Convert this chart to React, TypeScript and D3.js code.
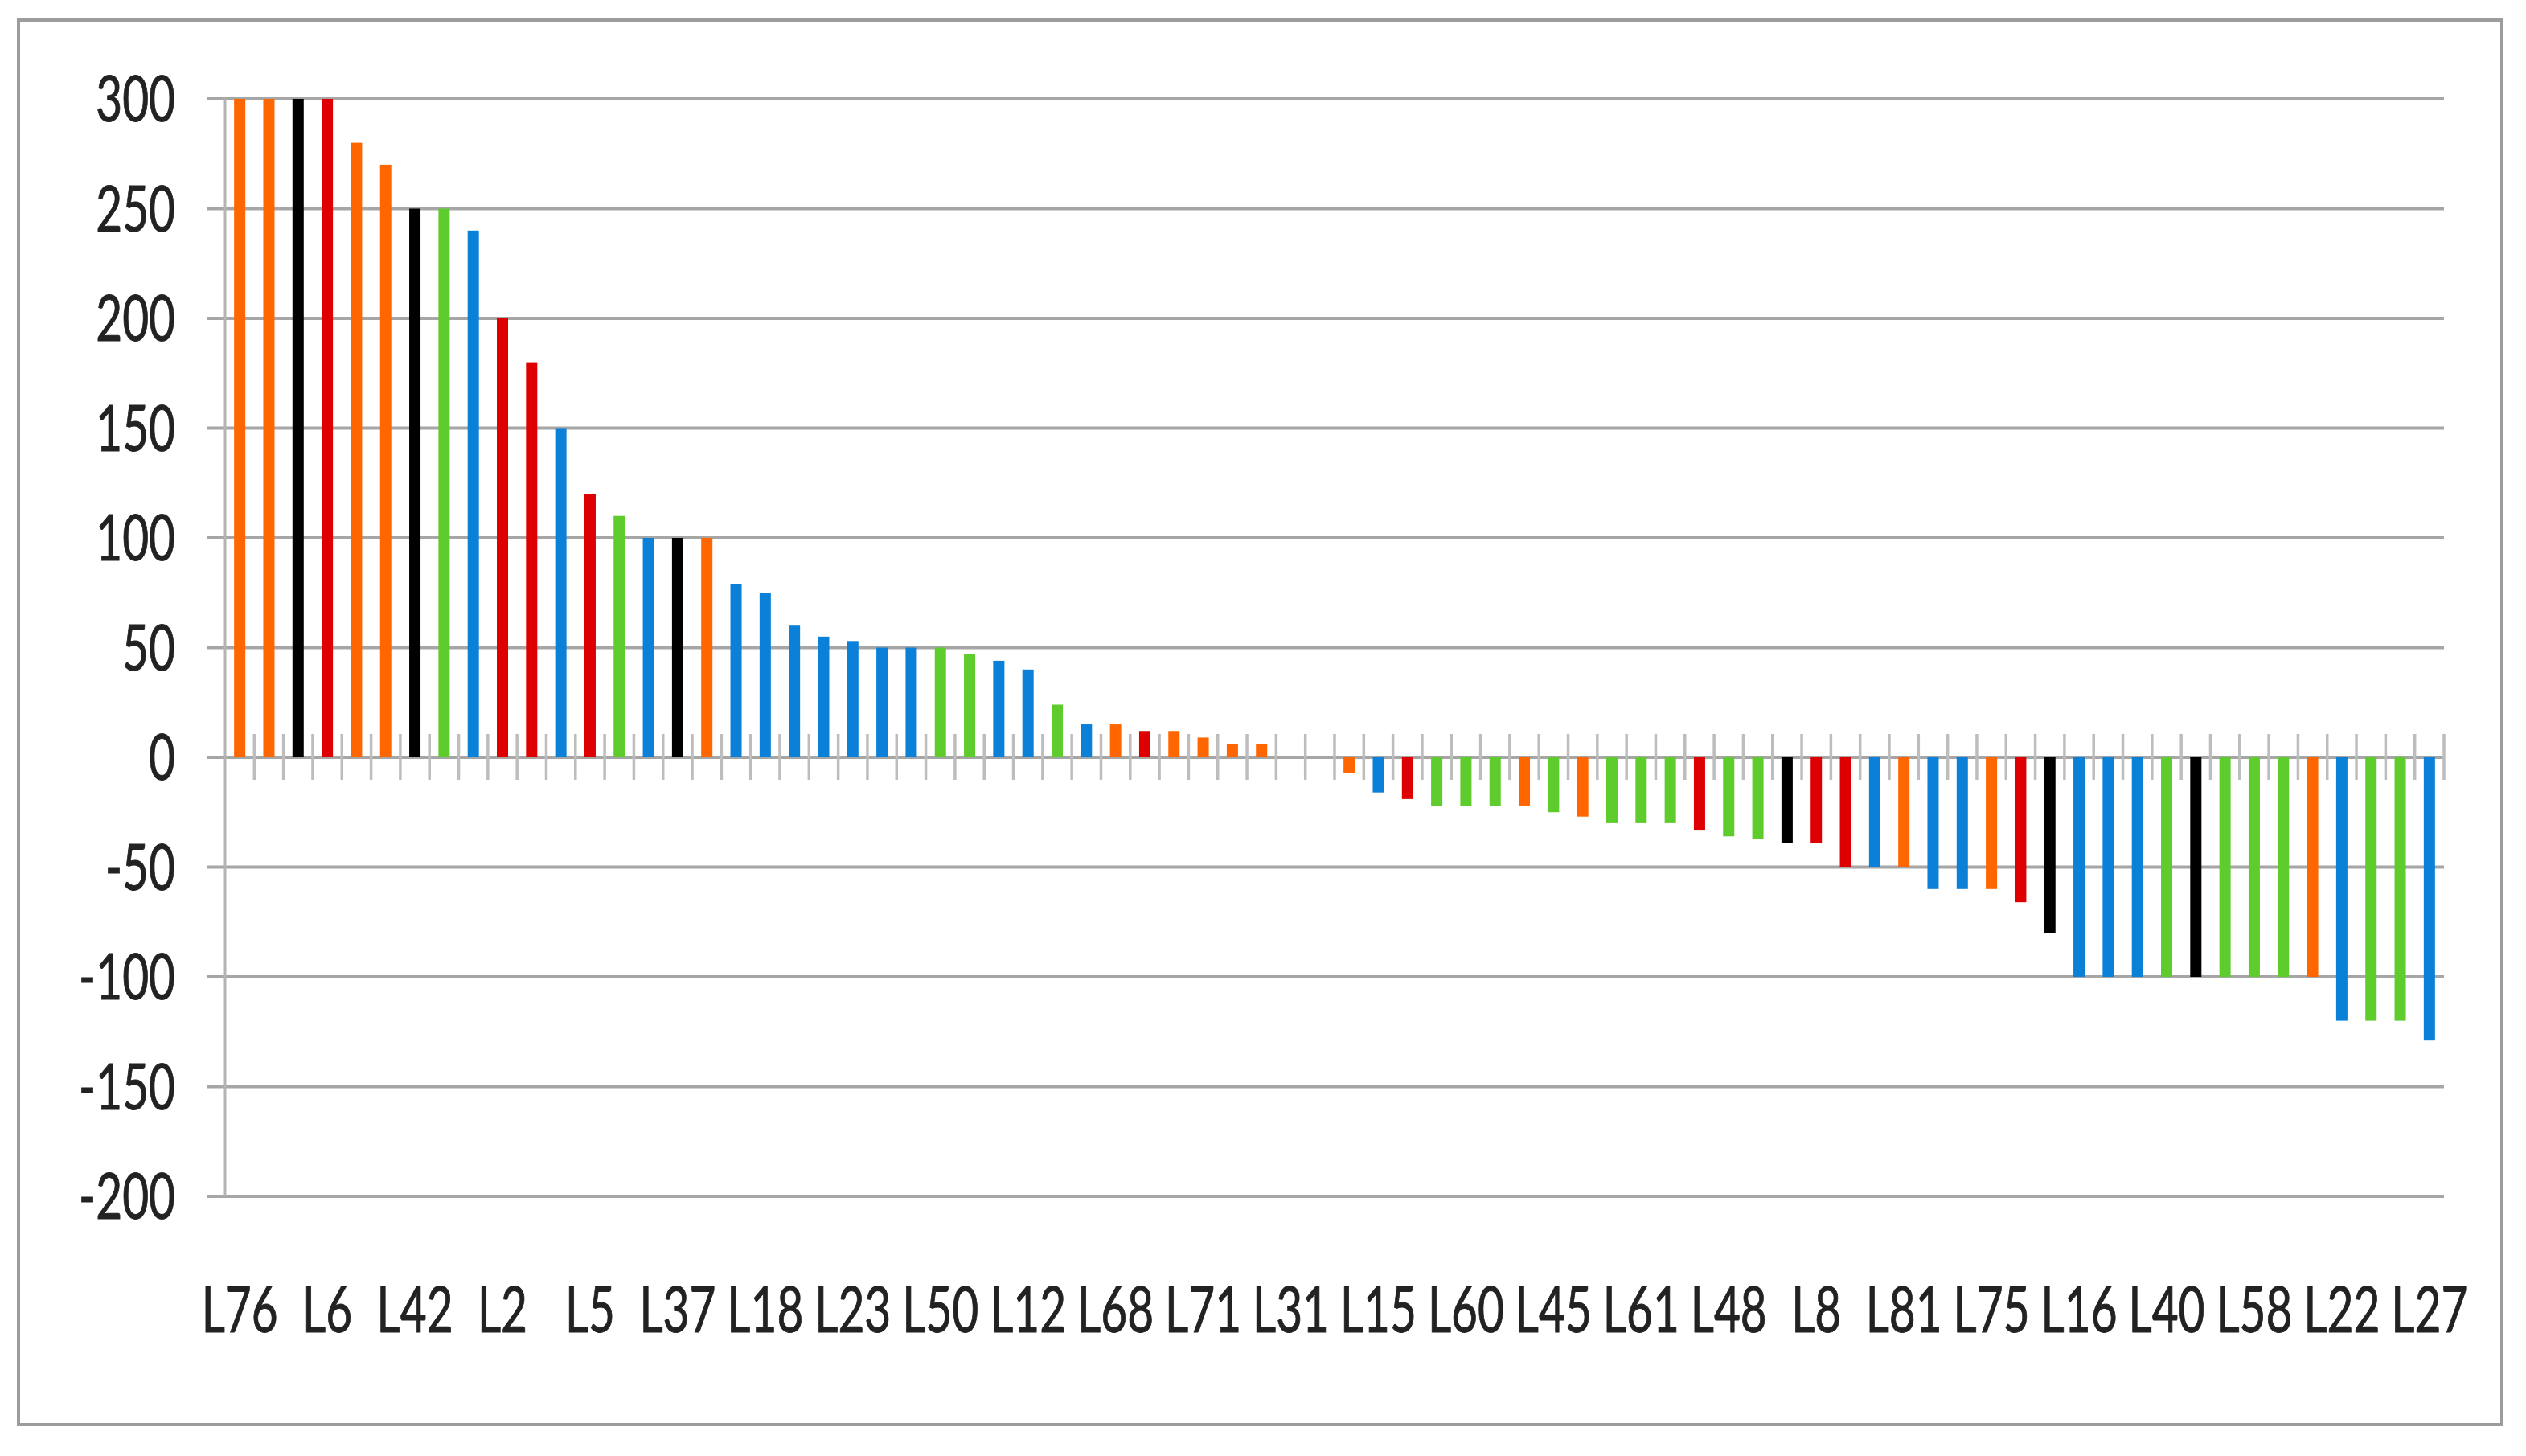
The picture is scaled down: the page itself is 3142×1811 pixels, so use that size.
import React from "react";
import * as d3 from "d3";

// Visible tick labels (every third category)
const tickLabels = [
  "L76", "L6", "L42", "L2", "L5", "L37", "L18", "L23", "L50", "L12", "L68", "L71", "L31",
  "L15", "L60", "L45", "L61", "L48", "L8", "L81", "L75", "L16", "L40", "L58", "L22", "L27",
];

// Bar values (76 categories, left to right)
const values = [
  300, 300, 300, 300, 280, 270, 250, 250, 240, 200,
  180, 150, 120, 110, 100, 100, 100, 79, 75, 60,
  55, 53, 50, 50, 50, 47, 44, 40, 24, 15,
  15, 12, 12, 9, 6, 6, 0, 0, -7, -16,
  -19, -22, -22, -22, -22, -25, -27, -30, -30, -30,
  -33, -36, -37, -39, -39, -50, -50, -50, -60, -60,
  -60, -66, -80, -100, -100, -100, -100, -100, -100, -100,
  -100, -100, -120, -120, -120, -129,
];

// Colour group of each bar: O orange, R red, K black, G green, B blue
const groups = [
  "O", "O", "K", "R", "O", "O", "K", "G", "B", "R",
  "R", "B", "R", "G", "B", "K", "O", "B", "B", "B",
  "B", "B", "B", "B", "G", "G", "B", "B", "G", "B",
  "O", "R", "O", "O", "O", "O", "O", "O", "O", "B",
  "R", "G", "G", "G", "O", "G", "O", "G", "G", "G",
  "R", "G", "G", "K", "R", "R", "B", "O", "B", "B",
  "O", "R", "K", "B", "B", "B", "G", "K", "G", "G",
  "G", "O", "B", "G", "G", "B",
];

const yTicks = [300, 250, 200, 150, 100, 50, 0, -50, -100, -150, -200];

const palette: Record<string, string> = {
  O: "#FF6600",
  R: "#DE0000",
  K: "#000000",
  G: "#5FCC2E",
  B: "#0A80D8",
};

const W = 3142;
const H = 1811;
const PL = 280;
const PR = 3040;
const PT = 123;
const PB = 1488;

export default function App() {
  const idx = d3.range(values.length);
  const x = d3.scaleBand<number>().domain(idx).range([PL, PR]).padding(0);
  const y = d3.scaleLinear().domain([-200, 300]).range([PB, PT]);
  const bw = 14;
  const y0 = y(0);
  const sx = 0.71;
  const font = "Lato, 'Open Sans', sans-serif";
  const textColor = "#222222";

  return (
    <svg
      width={W}
      height={H}
      style={{ position: "absolute", left: 0, top: 0, background: "#fff" }}
    >
      <rect x={0} y={0} width={W} height={H} fill="#fff" />
      {/* outer frame */}
      <rect x={23} y={25} width={3089} height={1747} fill="none" stroke="#9C9C9C" strokeWidth={4} />

      {/* gridlines */}
      {yTicks.map((t) => (
        <line key={"g" + t} x1={257} x2={PR} y1={y(t)} y2={y(t)} stroke="#A6A6A6" strokeWidth={4} />
      ))}

      {/* vertical axis */}
      <line x1={PL} x2={PL} y1={PT} y2={PB} stroke="#B4B4B4" strokeWidth={3} />

      {/* category ticks across zero line */}
      {d3.range(1, values.length + 1).map((k) => {
        const xx = k < values.length ? (x(k) as number) : PR;
        return (
          <line key={"t" + k} x1={xx} x2={xx} y1={y0 - 29} y2={y0 + 28} stroke="#BDBDBD" strokeWidth={3.5} />
        );
      })}

      {/* bars */}
      {values.map((v, i) => {
        if (v === 0) return null;
        const cx = (x(i) as number) + x.bandwidth() / 2;
        const top = Math.min(y(v), y0);
        const h = Math.abs(y(v) - y0);
        return <rect key={"b" + i} x={cx - bw / 2} y={top} width={bw} height={h} fill={palette[groups[i]]} />;
      })}

      {/* y labels */}
      {yTicks.map((t) => (
        <text
          key={"yl" + t}
          transform={`translate(218,${y(t) + 28}) scale(${sx},1)`}
          textAnchor="end"
          fontFamily={font}
          fontSize={80}
          fill={textColor}
          stroke={textColor}
          strokeWidth={1}
        >
          {t}
        </text>
      ))}

      {/* x labels */}
      {tickLabels.map((lab, j) => {
        const i = j * 3;
        const cx = (x(i) as number) + x.bandwidth() / 2;
        return (
          <text
            key={"xl" + lab}
            transform={`translate(${cx},1657) scale(${sx},1)`}
            textAnchor="middle"
            fontFamily={font}
            fontSize={80}
            fill={textColor}
            stroke={textColor}
            strokeWidth={1}
          >
            {lab}
          </text>
        );
      })}
    </svg>
  );
}
